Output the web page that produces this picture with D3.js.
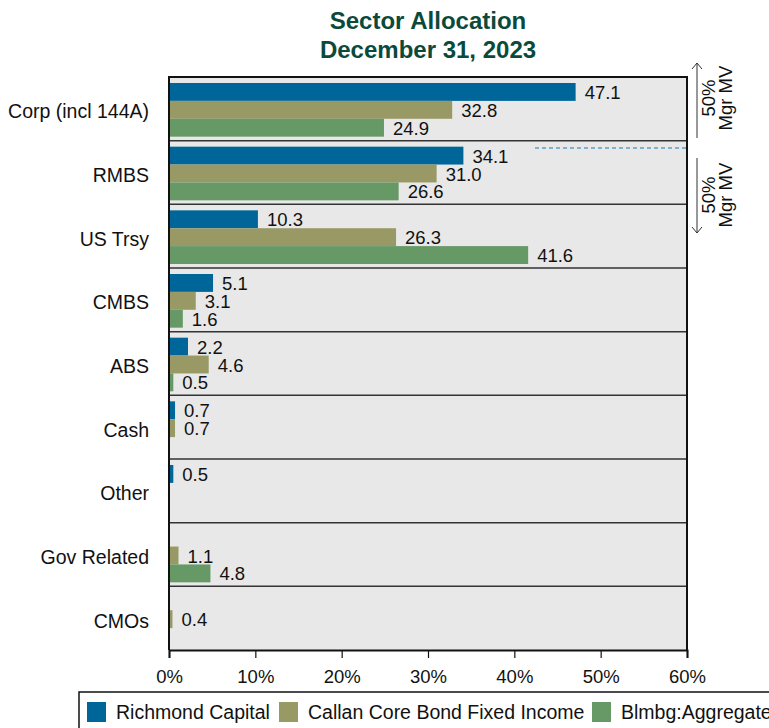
<meta charset="utf-8">
<title>Sector Allocation</title>
<style>
  body { margin: 0; background: #fff; }
  text { font-family: "Liberation Sans", Arial, sans-serif; }
</style>
<body>
<script src="https://cdn.jsdelivr.net/npm/d3@7"></script>
<script>
// data
var categories = ['Corp (incl 144A)', 'RMBS', 'US Trsy', 'CMBS', 'ABS', 'Cash', 'Other', 'Gov Related', 'CMOs'];
var seriesNames = ['Richmond Capital', 'Callan Core Bond Fixed Income', 'Blmbg:Aggregate'];
var richmond = [47.1, 34.1, 10.3, 5.1, 2.2, 0.7, 0.5, null, null];
var callan   = [32.8, 31.0, 26.3, 3.1, 4.6, 0.7, null, 1.1, 0.4];
var blmbg    = [24.9, 26.6, 41.6, 1.6, 0.5, null, null, 4.8, null];
var tickValues = [0, 10, 20, 30, 40, 50, 60];
var colors = ['#006699', '#999966', '#669966'];

var width = 769, height = 728;
var plotL = 169, plotR = 687, plotT = 77, plotB = 650;
var fs = '18.5px';
var fsBig = '19.5px';

var svg = d3.select('body').append('svg')
    .attr('width', width)
    .attr('height', height);

var x = d3.scaleLinear().domain([0, 60]).range([plotL, plotR]);
var y = d3.scaleBand().domain(categories).range([plotT, plotB]);
var slot = d3.scaleBand().domain([0, 1, 2]).range([6, y.bandwidth() - 4]);

// title
svg.append('text')
    .attr('x', (plotL + plotR) / 2).attr('y', 29)
    .attr('text-anchor', 'middle')
    .style('font-size', '24px').style('font-weight', 'bold').style('fill', '#0b4a3b')
    .text('Sector Allocation');
svg.append('text')
    .attr('x', (plotL + plotR) / 2).attr('y', 58)
    .attr('text-anchor', 'middle')
    .style('font-size', '24px').style('font-weight', 'bold').style('fill', '#0b4a3b')
    .text('December 31, 2023');

// plot background
svg.append('rect')
    .attr('x', plotL).attr('y', plotT)
    .attr('width', plotR - plotL).attr('height', plotB - plotT)
    .style('fill', '#e8e8e8');

// band separators
categories.slice(1).forEach(function(c) {
  svg.append('line')
      .attr('x1', plotL).attr('x2', plotR)
      .attr('y1', y(c)).attr('y2', y(c))
      .style('stroke', '#333').style('stroke-width', 1.5);
});

// category labels
svg.selectAll('.cat')
    .data(categories)
    .enter().append('text')
    .attr('x', 149)
    .attr('y', function(d) { return y(d) + y.bandwidth() / 2; })
    .attr('dy', '0.48em')
    .attr('text-anchor', 'end')
    .style('font-size', fsBig).style('fill', '#111')
    .text(function(d) { return d; });

// bars and value labels, series by series
var allSeries = [richmond, callan, blmbg];
allSeries.forEach(function(vals, s) {
  var rows = categories.map(function(c, i) { return { cat: c, v: vals[i] }; })
      .filter(function(d) { return d.v !== null; });
  svg.selectAll('.lbl' + s)
      .data(rows)
      .enter().append('text')
      .attr('x', function(d) { return x(d.v) + 9; })
      .attr('y', function(d) { return y(d.cat) + slot(s) + slot.bandwidth() / 2; })
      .attr('dy', '0.38em')
      .style('font-size', fs).style('fill', '#111')
      .text(function(d) { return d3.format('.1f')(d.v); });
  svg.selectAll('.bar' + s)
      .data(rows)
      .enter().append('rect')
      .attr('x', x(0))
      .attr('y', function(d) { return y(d.cat) + slot(s); })
      .attr('width', function(d) { return x(d.v) - x(0); })
      .attr('height', slot.bandwidth())
      .style('fill', colors[s]);
});

// frame
svg.append('path')
    .attr('d', 'M' + plotL + ',' + plotB + 'V' + plotT + 'H' + plotR + 'V' + plotB)
    .style('fill', 'none').style('stroke', '#111').style('stroke-width', 2);

// x axis
var xAxis = svg.append('g')
    .attr('transform', 'translate(0,' + plotB + ')')
    .call(d3.axisBottom(x).tickValues(tickValues).tickSize(8).tickPadding(12)
      .tickFormat(function(d) { return d + '%'; }));
xAxis.select('.domain').style('stroke', '#111').style('stroke-width', 2);
xAxis.selectAll('.tick line').style('stroke', '#111').style('stroke-width', 1.2);
xAxis.selectAll('text').style('font-size', fs).style('fill', '#111')
    .style('font-family', '"Liberation Sans", Arial, sans-serif');

// 50% market value marker
svg.append('line')
    .attr('x1', 535).attr('x2', plotR)
    .attr('y1', 148).attr('y2', 148)
    .style('stroke', '#1a7ab8').style('stroke-width', 1).style('stroke-dasharray', '4,3');

var ax = 697;
svg.append('line').attr('x1', ax).attr('x2', ax).attr('y1', 63).attr('y2', 138)
    .style('stroke', '#333').style('stroke-width', 1);
svg.append('path').attr('d', 'M' + (ax - 5) + ',69L' + ax + ',63L' + (ax + 5) + ',69')
    .style('fill', 'none').style('stroke', '#333').style('stroke-width', 1);
svg.append('line').attr('x1', ax).attr('x2', ax).attr('y1', 158).attr('y2', 233)
    .style('stroke', '#333').style('stroke-width', 1);
svg.append('path').attr('d', 'M' + (ax - 5) + ',227L' + ax + ',233L' + (ax + 5) + ',227')
    .style('fill', 'none').style('stroke', '#333').style('stroke-width', 1);

[98, 195].forEach(function(cy) {
  var g = svg.append('g').attr('transform', 'translate(721,' + cy + ') rotate(-90)');
  g.append('text').attr('y', -6).attr('text-anchor', 'middle')
      .style('font-size', fs).style('fill', '#111').text('50%');
  g.append('text').attr('y', 11).attr('text-anchor', 'middle')
      .style('font-size', fs).style('fill', '#111').text('Mgr MV');
});

// legend
svg.append('rect')
    .attr('x', 79).attr('y', 692).attr('width', 700).attr('height', 50)
    .style('fill', '#fff').style('stroke', '#111').style('stroke-width', 1.5);
var legendX = [87, 279, 592];
seriesNames.forEach(function(n, i) {
  svg.append('rect')
      .attr('x', legendX[i]).attr('y', 702).attr('width', 19).attr('height', 20)
      .style('fill', colors[i]);
  svg.append('text')
      .attr('x', legendX[i] + 29).attr('y', 712).attr('dy', '0.36em')
      .style('font-size', fsBig).style('fill', '#111')
      .text(n);
});
</script>
